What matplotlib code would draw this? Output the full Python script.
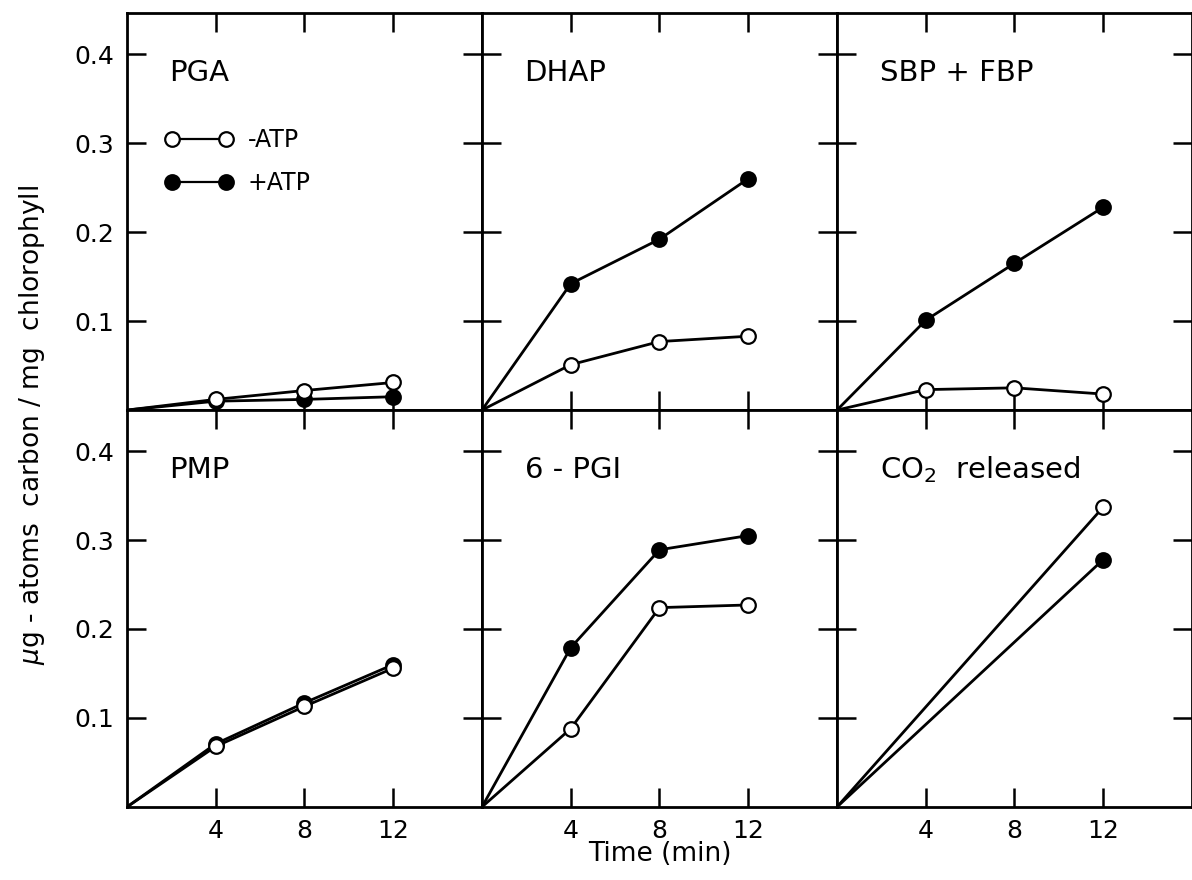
import matplotlib.pyplot as plt
from matplotlib.lines import Line2D

plt.rcParams['font.family'] = ['DejaVu Sans']
plt.rcParams['mathtext.fontset'] = 'dejavusans'

# time points (min)
times = [0, 4, 8, 12]
times_co2 = [0, 12]

# -ATP (open) and +ATP (filled) per metabolite
pga_minus = [0, 0.012, 0.022, 0.031]
pga_plus = [0, 0.010, 0.012, 0.015]

dhap_minus = [0, 0.051, 0.077, 0.083]
dhap_plus = [0, 0.142, 0.192, 0.260]

sbp_minus = [0, 0.023, 0.025, 0.018]
sbp_plus = [0, 0.101, 0.165, 0.228]

pmp_minus = [0, 0.068, 0.113, 0.156]
pmp_plus = [0, 0.071, 0.117, 0.160]

pgi_minus = [0, 0.088, 0.224, 0.227]
pgi_plus = [0, 0.179, 0.289, 0.305]

co2_minus = [0, 0.337]
co2_plus = [0, 0.278]

panels = [
    ("PGA", times, pga_minus, pga_plus),
    ("DHAP", times, dhap_minus, dhap_plus),
    ("SBP + FBP", times, sbp_minus, sbp_plus),
    ("PMP", times, pmp_minus, pmp_plus),
    ("6 - PGI", times, pgi_minus, pgi_plus),
    ("CO$_2$  released", times_co2, co2_minus, co2_plus),
]

fig, axes = plt.subplots(2, 3, figsize=(11.92, 8.8), dpi=100, sharex=True, sharey=True)
fig.subplots_adjust(left=0.1065, right=1.0, top=0.985, bottom=0.083, wspace=0, hspace=0)

line_kw = dict(color='black', linewidth=2, markersize=10.5, markeredgewidth=1.6,
               markeredgecolor='black', marker='o')

for ax, (name, t, y_minus, y_plus) in zip(axes.flat, panels):
    # only mark measured points (skip the origin)
    ax.plot(t, y_plus, markerfacecolor='black', markevery=list(range(1, len(t))), **line_kw)
    ax.plot(t, y_minus, markerfacecolor='white', markevery=list(range(1, len(t))), **line_kw)
    ax.text(0.12, 0.85, name, transform=ax.transAxes, fontsize=21, va='center', ha='left')
    ax.set_xlim(0, 16)
    ax.set_ylim(0, 0.446)
    ax.set_xticks([4, 8, 12])
    ax.set_xticklabels(['4', '8', '12'])
    ax.set_yticks([0.1, 0.2, 0.3, 0.4])
    ax.set_yticklabels(['0.1', '0.2', '0.3', '0.4'])
    ax.tick_params(direction='in', top=True, right=True, length=14, width=1.8,
                   labelsize=18, pad=9)
    for sp in ax.spines.values():
        sp.set_linewidth(2)

# legend in the PGA panel
handles = [
    Line2D([], [], color='black', linewidth=1.6, marker='o', markersize=10.5,
           markerfacecolor='white', markeredgecolor='black', markeredgewidth=1.6),
    Line2D([], [], color='black', linewidth=1.6, marker='o', markersize=10.5,
           markerfacecolor='black', markeredgecolor='black', markeredgewidth=1.6),
]
axes[0, 0].legend(handles, ['-ATP', '+ATP'], loc='upper left', bbox_to_anchor=(0.107, 0.71),
                  frameon=False, numpoints=2, handlelength=2.9, handletextpad=0.6,
                  labelspacing=0.79, fontsize=17, borderpad=0, borderaxespad=0)

mid = axes[1, 1].get_position()
fig.text(0.5 * (mid.x0 + mid.x1), 0.029, 'Time (min)', ha='center', va='center', fontsize=19)
fig.text(0.027, 0.517, r'$\mu$g - atoms  carbon / mg  chlorophyll', rotation=90,
         ha='center', va='center', fontsize=19)

fig.savefig('out.png', dpi=100)
